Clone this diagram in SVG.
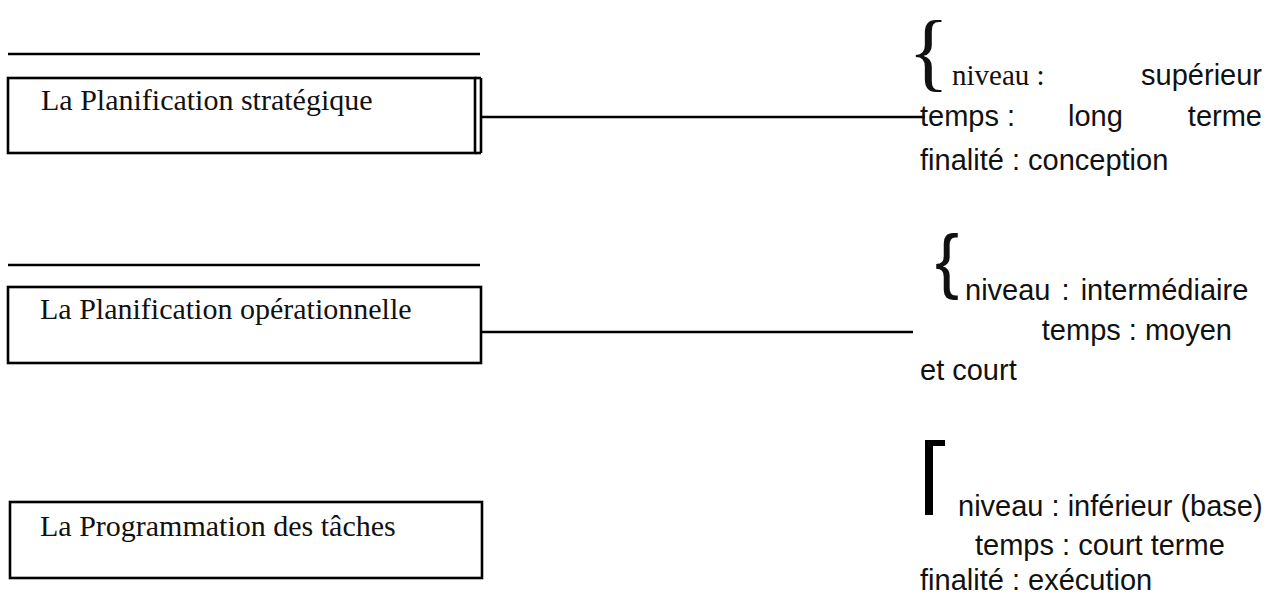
<svg xmlns="http://www.w3.org/2000/svg" width="1268" height="594" viewBox="0 0 1268 594">
<style>
.ln{stroke:#000;stroke-width:2.6;fill:none}
.box{stroke:#000;stroke-width:2.6;fill:#fff}
.serif{font-family:"Liberation Serif","Times New Roman",serif;fill:#111}
.sans{font-family:"Liberation Sans",Arial,sans-serif;fill:#111;font-size:29px}
.lbl{font-size:30px}
</style>
<rect width="1268" height="594" fill="#fff"/>
<g id="rule1"><line class="ln" x1="8" y1="54" x2="480" y2="54"/></g>
<g id="rule2"><line class="ln" x1="8" y1="265" x2="480" y2="265"/></g>
<g id="connectors">
<line class="ln" x1="481" y1="117" x2="925" y2="117"/>
<line class="ln" x1="481" y1="332" x2="913" y2="332"/>
</g>
<g id="node-strategique">
<rect class="box" x="8" y="78" width="467" height="75"/>
<line class="ln" x1="481" y1="78" x2="481" y2="153"/>
<line class="ln" x1="475" y1="78" x2="481" y2="78"/>
<line class="ln" x1="475" y1="153" x2="481" y2="153"/>
<text class="serif lbl" x="41" y="110">La Planification stratégique</text>
</g>
<g id="node-operationnelle">
<rect class="box" x="8" y="287" width="473" height="76"/>
<text class="serif lbl" x="40" y="319">La Planification opérationnelle</text>
</g>
<g id="node-programmation">
<rect class="box" x="10" y="502" width="472" height="76"/>
<text class="serif lbl" x="40" y="536">La Programmation des tâches</text>
</g>
<g id="desc-strategique">
<text class="serif" font-size="86" x="908" y="80">{</text>
<text class="serif" font-size="29" x="952" y="85" xml:space="preserve">niveau :</text>
<text class="sans" x="1262" y="85" text-anchor="end">supérieur</text>
<text class="sans" y="126"><tspan x="920">temps :</tspan><tspan x="1068">long</tspan></text>
<text class="sans" x="1262" y="126" text-anchor="end">terme</text>
<text class="sans" x="920" y="170">finalité : conception</text>
</g>
<g id="desc-operationnelle">
<text class="sans" x="935" y="285" style="font-size:72px">{</text>
<text class="sans" x="965" y="300" word-spacing="3">niveau : intermédiaire</text>
<text class="sans" x="1232" y="340" text-anchor="end">temps : moyen</text>
<text class="sans" x="920" y="380">et court</text>
</g>
<g id="desc-programmation">
<path d="M925 440H945V446H933V515H925Z" fill="#000"/>
<text class="sans" x="958" y="516">niveau : inférieur (base)</text>
<text class="sans" x="975" y="555">temps : court terme</text>
<text class="sans" x="920" y="590">finalité : exécution</text>
</g>
</svg>
